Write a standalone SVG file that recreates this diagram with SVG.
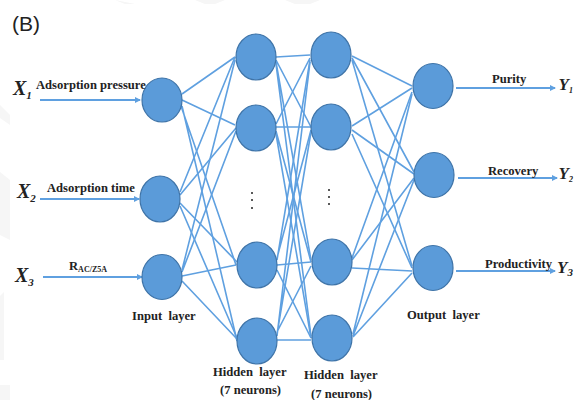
<svg xmlns="http://www.w3.org/2000/svg" width="574" height="400" viewBox="0 0 574 400">
<style>
.n{fill:#5b9bd9;stroke:#3f74a8;stroke-width:1.2}
.c{stroke:#5fa0e0;stroke-width:1.6;fill:none}
.a{stroke:#5fa0e0;stroke-width:1.8;fill:none;marker-end:url(#ah)}
.t{font-family:"Liberation Serif",serif;font-weight:bold;font-size:12.6px;fill:#222}
.v{font-family:"Liberation Serif",serif;font-weight:bold;font-style:italic;font-size:20px;fill:#222}
.y{font-size:17px}
.s{font-size:11px}
.z{font-size:8px}
.d{fill:#222}
.w{fill:#f6f6f6}
</style>
<defs><marker id="ah" markerWidth="6" markerHeight="6" refX="5" refY="3" orient="auto" markerUnits="userSpaceOnUse"><path d="M0,0L6,3L0,6Z" fill="#5fa0e0"/></marker></defs>
<rect width="574" height="400" fill="#fff"/>
<g id="watermark">
<path class="w" d="M115,0L135,4L125,4Z"/><path class="w" d="M195,0H225L215,4H205Z"/><path class="w" d="M285,0H320L310,4H295Z"/>
<path class="w" d="M0,105L10,115V125L0,118Z"/><path class="w" d="M0,172L10,180V240L0,235Z"/><path class="w" d="M0,296L4,292V360H0Z"/><path class="w" d="M0,385H10V400H0Z"/>
</g>
<g id="connectors">
<g id="input-hidden1">
<path class="c" d="M182,94L235,57M182,100L235,125M181,106L236,265M182,106L237,341"/>
<path class="c" d="M180,192L235,57M180,195L236,128M180,203L237,262M180,206L237,338"/>
<path class="c" d="M182,270L235,60M182,272L236,131M182,276L236,265M182,281L237,339"/>
</g>
<g id="hidden1-hidden2">
<path class="c" d="M276,57L310,55M276,60L311,127M276,62L311,260M276,64L311,336"/>
<path class="c" d="M276,124L310,58M276,127L311,127M276,131L311,262M276,134L311,338"/>
<path class="c" d="M277,260L310,60M277,258L311,130M277,265L311,262M277,270L311,338"/>
<path class="c" d="M277,336L310,62M277,334L311,132M277,332L311,266M277,340L311,340"/>
</g>
<g id="hidden2-output">
<path class="c" d="M352,56L412,86M352,58L414,172M352,60L412,266"/>
<path class="c" d="M352,126L412,88M352,130L414,174M352,134L412,268"/>
<path class="c" d="M352,258L412,92M352,260L414,178M352,268L412,271"/>
<path class="c" d="M353,334L412,94M353,336L414,180M353,337L412,273"/>
</g>
<path class="a" d="M40,100H140"/>
<path class="a" d="M40,199H139"/>
<path class="a" d="M43,277H142"/>
<path class="a" d="M456,88H555"/>
<path class="a" d="M458,178H557"/>
<path class="a" d="M456,271H555"/>
</g>
<g id="input1"><ellipse class="n" cx="162" cy="100" rx="20" ry="22"/></g>
<g id="input2"><ellipse class="n" cx="160" cy="199" rx="20" ry="23"/></g>
<g id="input3"><ellipse class="n" cx="162" cy="277" rx="20" ry="22.5"/></g>
<g id="hidden1-1"><ellipse class="n" cx="256" cy="57" rx="20" ry="23"/></g>
<g id="hidden1-2"><ellipse class="n" cx="256" cy="128" rx="20" ry="23"/></g>
<g id="hidden1-3"><ellipse class="n" cx="257" cy="265" rx="20" ry="23"/></g>
<g id="hidden1-4"><ellipse class="n" cx="257" cy="341" rx="20" ry="23"/></g>
<g id="hidden2-1"><ellipse class="n" cx="331" cy="55" rx="20" ry="23"/></g>
<g id="hidden2-2"><ellipse class="n" cx="331" cy="127" rx="20" ry="23"/></g>
<g id="hidden2-3"><ellipse class="n" cx="332" cy="262" rx="20" ry="23"/></g>
<g id="hidden2-4"><ellipse class="n" cx="332" cy="338" rx="20" ry="23"/></g>
<g id="output1"><ellipse class="n" cx="433" cy="86" rx="20" ry="22.5"/></g>
<g id="output2"><ellipse class="n" cx="434" cy="175" rx="20" ry="22.5"/></g>
<g id="output3"><ellipse class="n" cx="433" cy="268" rx="20" ry="22.5"/></g>
<g id="dots">
<circle class="d" cx="252" cy="193" r="1"/><circle class="d" cx="252" cy="200" r="1"/><circle class="d" cx="252" cy="208" r="1"/>
<circle class="d" cx="329" cy="190" r="1"/><circle class="d" cx="329" cy="197" r="1"/><circle class="d" cx="329" cy="204" r="1"/>
</g>
<g id="labels">
<text x="12" y="31" font-family="Liberation Sans,sans-serif" font-size="21" fill="#222">(B)</text>
<text class="v" x="13" y="95">X<tspan class="s" dy="4">1</tspan></text>
<text class="v" x="17" y="198">X<tspan class="s" dy="4">2</tspan></text>
<text class="v" x="15" y="282">X<tspan class="s" dy="4">3</tspan></text>
<text class="t" x="36" y="89">Adsorption pressure</text>
<text class="t" x="47" y="192">Adsorption time</text>
<text class="t" x="69" y="270">R<tspan class="z" dy="2">AC/Z5A</tspan></text>
<text class="t" x="132" y="320" xml:space="preserve">Input  layer</text>
<text class="t" x="213" y="376" xml:space="preserve">Hidden  layer</text>
<text class="t" x="220" y="394">(7 neurons)</text>
<text class="t" x="304" y="379" xml:space="preserve">Hidden  layer</text>
<text class="t" x="311" y="398">(7 neurons)</text>
<text class="t" x="407" y="319" xml:space="preserve">Output  layer</text>
<text class="t" x="492" y="83">Purity</text>
<text class="t" x="488" y="175">Recovery</text>
<text class="t" x="485" y="268">Productivity</text>
<text class="v y" x="558.5" y="90">Y<tspan class="z" dy="3">1</tspan></text>
<text class="v y" x="558.5" y="179">Y<tspan class="z" dy="3">2</tspan></text>
<text class="v y" x="557" y="273">Y<tspan class="s" dy="3">3</tspan></text>
</g>
</svg>
